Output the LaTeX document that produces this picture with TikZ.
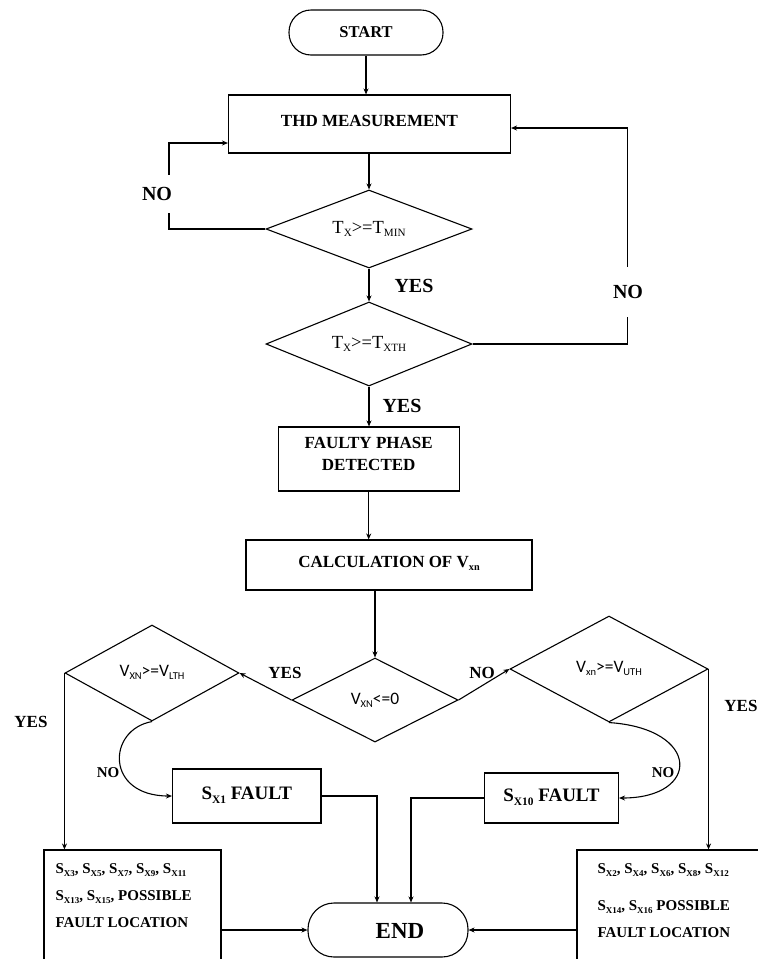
\documentclass[tikz,border=0pt]{standalone}
\usepackage{fontspec}
\setmainfont{Liberation Serif}
\newfontfamily\calfont{Carlito}
\usepackage{graphicx}
\usetikzlibrary{shapes.geometric,arrows.meta,calc}
\newcommand{\mysb}[1]{\raisebox{-0.18em}{\scalebox{0.6}{#1}}}
\begin{document}
\begin{tikzpicture}[x=1pt,y=-1pt,
  line width=1.1pt,
  arr/.style={-{Stealth[length=6pt,width=5pt]}},
  box/.style={draw, rectangle, inner sep=0pt},
  term/.style={draw, rectangle, inner sep=0pt},
  dia/.style={draw, diamond, inner sep=0pt, aspect=2},
  ftbox/.style={font=\bfseries\fontsize{17}{22}\selectfont},
  ftdia/.style={font=\fontsize{18.5}{20}\selectfont},
  ftcal/.style={font=\calfont\fontsize{17.5}{19}\selectfont},
  lblbig/.style={font=\bfseries\fontsize{20}{22}\selectfont, inner sep=1pt},
  lblmid/.style={font=\bfseries\fontsize{17}{20}\selectfont, inner sep=1pt},
  lblsm/.style={font=\bfseries\fontsize{15}{17}\selectfont, inner sep=1pt},
  ftlist/.style={font=\bfseries\fontsize{15}{27}\selectfont, align=left, inner sep=0pt, anchor=north west},
]
\fill[white] (0,0) rectangle (758,959);
\useasboundingbox (0,0) rectangle (758,959);

% nodes
\node[term, minimum width=154, minimum height=45, rounded corners=22pt, ftbox, font=\bfseries\fontsize{16.5}{20}\selectfont] (start) at (366,32.5) {START};
\node[box, minimum width=282, minimum height=58, ftbox] (thd) at (369.5,124) {\raisebox{7pt}{THD MEASUREMENT}};
\node[dia, minimum width=206, minimum height=78, ftdia] (d1) at (369,229) {T\mysb{X}>=T\mysb{MIN}};
\node[dia, minimum width=206, minimum height=84, ftdia] (d2) at (369,344) {\raisebox{3pt}{T\mysb{X}>=T\mysb{XTH}}};
\node[box, minimum width=181, minimum height=64] (faulty) at (368.7,459) {};
\node[ftbox, align=center, inner sep=0pt] (faultyt) at (368.7,454) {FAULTY PHASE\\DETECTED};
\node[box, minimum width=286, minimum height=50, ftbox] (calc) at (389,565) {\raisebox{6pt}{CALCULATION OF V\mysb{xn}}};
\node[dia, minimum width=166, minimum height=84, ftcal] (cdia) at (375,700) {\raisebox{3pt}{V\mysb{XN}<=0}};
\node[dia, minimum width=174, minimum height=96, ftcal] (ldia) at (152,673) {\raisebox{5pt}{V\mysb{XN}>=V\mysb{LTH}}};
\node[dia, minimum width=198, minimum height=106, ftcal] (rdia) at (609,669) {\raisebox{4pt}{V\mysb{xn}>=V\mysb{UTH}}};
\node[box, minimum width=148.5, minimum height=54, font=\bfseries\fontsize{19}{22}\selectfont] (sx1) at (246.75,796) {\raisebox{5pt}{S\mysb{X1} FAULT}};
\node[box, minimum width=134, minimum height=50, font=\bfseries\fontsize{19}{22}\selectfont] (sx10) at (551.5,798) {\raisebox{5pt}{S\mysb{X10} FAULT}};
\node[term, minimum width=160, minimum height=54, rounded corners=26pt] (endn) at (388,930) {};
\node[font=\bfseries\fontsize{23}{26}\selectfont, inner sep=0pt] (endt) at (400,931) {END};
\node[box, minimum width=177, minimum height=125] (lbox) at (132.5,912.5) {};
\node[box, minimum width=213, minimum height=125] (rbox) at (683.5,912.5) {};
\node[ftlist] (ltxt) at (55,863) {S\mysb{X3}, S\mysb{X5}, S\mysb{X7}, S\mysb{X9}, S\mysb{X11}\\S\mysb{X13}, S\mysb{X15}, POSSIBLE\\FAULT LOCATION};
\node[ftlist] (rtxt) at (597,863) {S\mysb{X2}, S\mysb{X4}, S\mysb{X6}, S\mysb{X8}, S\mysb{X12}\\[10pt]S\mysb{X14}, S\mysb{X16} POSSIBLE\\FAULT LOCATION};

% connectors
\draw[arr] (start.south) -- (start.south |- thd.north);
\draw[arr] (thd.south -| d1.north) -- (d1.north);
\draw[arr] (d1.south) -- (d2.north);
\draw[arr] (d2.south) -- (d2.south |- faulty.north);
\draw[arr] (faulty.south) -- (faulty.south |- calc.north);
\draw[arr] (calc.south -| cdia.north) -- (cdia.north);
\draw[arr] (cdia.west) -- (ldia.east);
\draw[arr] (cdia.east) -- (rdia.west);
\draw[arr] (ldia.west) -- (ldia.west |- lbox.north);
\draw[arr] (rdia.east) -- (rdia.east |- rbox.north);
\draw[arr] (ldia.south) .. controls +(-45,8) and +(-67,0) .. (sx1.west);
\draw[arr] (rdia.south) .. controls +(92,6) and +(82,0) .. (sx10.east);
\draw[arr] (sx1.east) -| ($(endn.north)+(-11,0)$);
\draw[arr] (sx10.west) -| ($(endn.north)+(23,0)$);
\draw[arr] (endn.west -| lbox.east) -- (endn.west);
\draw[arr] (endn.east -| rbox.west) -- (endn.east);
\draw[arr] (d1.west) -- ++(-96.5,0) |- ($(thd.west)+(0,19)$);
\draw[arr] (d2.east) -| ($(thd.east)+(116.5,4)$) -- ($(thd.east)+(0,4)$);

% labels
\node[lblbig, fill=white, minimum width=40, minimum height=38] (no1) at (157,194) {NO};
\node[lblbig] (yes1) at (414,286) {YES};
\node[lblbig, fill=white, minimum height=50] (no2) at (628,292) {NO};
\node[lblbig] (yes2) at (402,406) {YES};
\node[lblmid] (yes3) at (285,673) {YES};
\node[lblmid] (no3) at (482,673) {NO};
\node[lblmid] (yes4) at (31,722) {YES};
\node[lblmid] (yes5) at (741,706) {YES};
\node[lblsm] (no4) at (108,773) {NO};
\node[lblsm] (no5) at (663,773) {NO};
\end{tikzpicture}
\end{document}
